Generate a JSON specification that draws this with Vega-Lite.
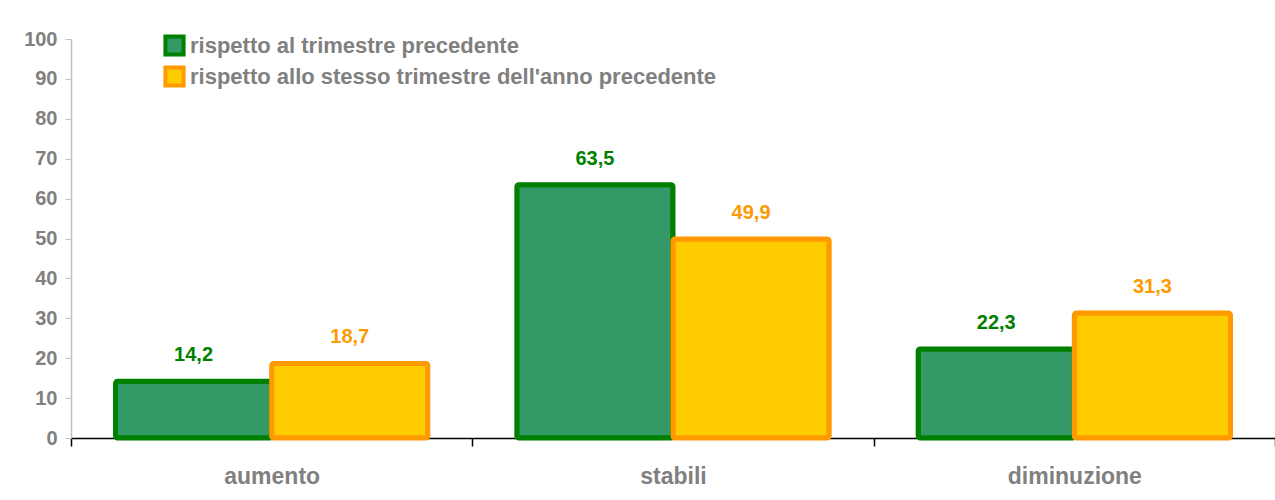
{
  "$schema": "https://vega.github.io/schema/vega-lite/v6.json",
  "width": 1204,
  "height": 399,
  "autosize": {"type": "none"},
  "padding": {"left": 71, "top": 39, "right": 0, "bottom": 62},
  "background": "white",
  "config": {
    "view": {"stroke": null},
    "font": "Liberation Sans",
    "locale": {"number": {"decimal": ",", "thousands": ".", "grouping": [3], "currency": ["€", ""]}}
  },
  "data": {
    "values": [
      {"categoria": "aumento", "serie": "rispetto al trimestre precedente", "valore": 14.2},
      {"categoria": "aumento", "serie": "rispetto allo stesso trimestre dell'anno precedente", "valore": 18.7},
      {"categoria": "stabili", "serie": "rispetto al trimestre precedente", "valore": 63.5},
      {"categoria": "stabili", "serie": "rispetto allo stesso trimestre dell'anno precedente", "valore": 49.9},
      {"categoria": "diminuzione", "serie": "rispetto al trimestre precedente", "valore": 22.3},
      {"categoria": "diminuzione", "serie": "rispetto allo stesso trimestre dell'anno precedente", "valore": 31.3}
    ]
  },
  "encoding": {
    "x": {
      "field": "categoria", "type": "nominal", "sort": ["aumento", "stabili", "diminuzione"],
      "scale": {"paddingInner": 0, "paddingOuter": 0},
      "axis": {
        "title": null, "labelAngle": 0, "tickBand": "extent",
        "domainColor": "#000000", "domainWidth": 1.5, "tickColor": "#000000", "tickSize": 8, "tickWidth": 1.5,
        "labelFont": "Liberation Sans", "labelFontSize": 23, "labelFontWeight": "bold", "labelColor": "#808080",
        "labelPadding": 19
      }
    },
    "xOffset": {
      "field": "serie", "type": "nominal",
      "sort": ["rispetto al trimestre precedente", "rispetto allo stesso trimestre dell'anno precedente"],
      "scale": {"paddingInner": 0, "paddingOuter": 0.285}
    },
    "y": {
      "field": "valore", "type": "quantitative",
      "scale": {"domain": [0, 100], "nice": false},
      "axis": {
        "title": null, "grid": false, "values": [0, 10, 20, 30, 40, 50, 60, 70, 80, 90, 100],
        "domainColor": "#C0C0C0", "domainWidth": 1.5, "tickColor": "#C0C0C0", "tickSize": 6,
        "labelFont": "Liberation Sans", "labelFontSize": 20, "labelFontWeight": "bold", "labelColor": "#808080",
        "labelPadding": 8
      }
    }
  },
  "layer": [
    {
      "mark": {"type": "bar", "strokeWidth": 5, "cornerRadius": 2},
      "encoding": {
        "fill": {
          "field": "serie", "type": "nominal",
          "sort": ["rispetto al trimestre precedente", "rispetto allo stesso trimestre dell'anno precedente"],
          "scale": {"range": ["#339966", "#FFCC00"]},
          "legend": {
            "title": null, "orient": "none", "legendX": 92, "legendY": -5,
            "symbolType": "square", "symbolSize": 330, "symbolStrokeWidth": 4,
            "labelFont": "Liberation Sans", "labelFontSize": 22, "labelFontWeight": "bold", "labelColor": "#808080",
            "labelLimit": 800, "labelOffset": 4, "rowPadding": -4,
            "encode": {"symbols": {"update": {"stroke": {"scale": "stroke", "field": "value"}}}}
          }
        },
        "stroke": {
          "field": "serie", "type": "nominal",
          "sort": ["rispetto al trimestre precedente", "rispetto allo stesso trimestre dell'anno precedente"],
          "scale": {"range": ["#008000", "#FF9900"]},
          "legend": null
        }
      }
    },
    {
      "mark": {"type": "text", "baseline": "middle", "dy": -26, "fontSize": 20, "fontWeight": "bold", "font": "Liberation Sans"},
      "encoding": {
        "text": {"field": "valore", "type": "quantitative", "format": ".1f"},
        "color": {
          "field": "serie", "type": "nominal",
          "sort": ["rispetto al trimestre precedente", "rispetto allo stesso trimestre dell'anno precedente"],
          "scale": {"range": ["#008000", "#FF9900"]},
          "legend": null
        }
      }
    }
  ]
}
